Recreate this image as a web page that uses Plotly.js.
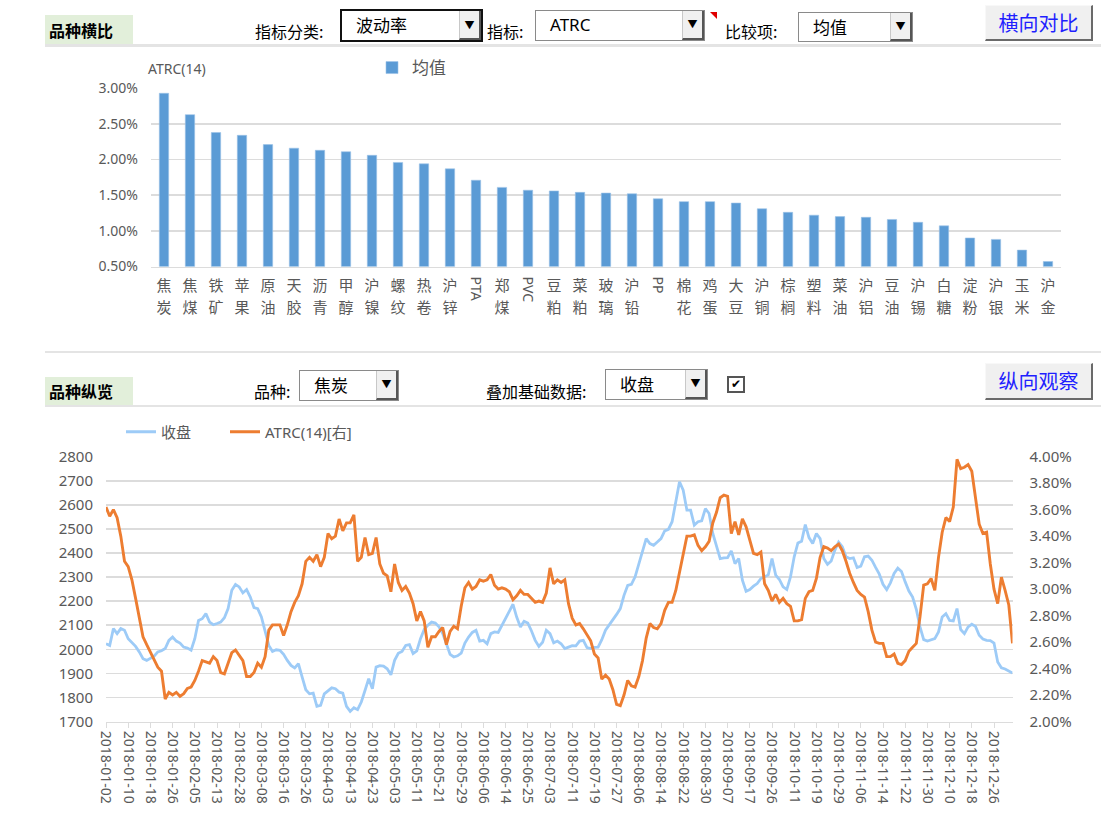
<!DOCTYPE html>
<html><head><meta charset="utf-8">
<script src="https://cdn.plot.ly/plotly-3.0.1.min.js"></script>
<style>
body{margin:0;background:#fff;}
#wrap{position:relative;width:1101px;height:834px;overflow:hidden;font-family:"Noto Sans CJK SC",sans-serif;}
#chart{position:absolute;left:0;top:0;width:1101px;height:834px;}
.ui{position:absolute;z-index:5;box-sizing:border-box;white-space:nowrap;}
.tag{background:#e2efda;font-weight:bold;font-size:16px;color:#000;padding-left:4px;line-height:30px;}
.sep{background:#e4e4e4;}
.lbl{font-size:16px;color:#000;line-height:20px;}
.dd{background:#fff;border:1px solid #8a8a8a;font-size:17px;color:#000;}
.dd.focus{border:2px solid #111;}
.dd .t{position:absolute;left:14px;top:2px;line-height:24px;}
.dd .arr{position:absolute;right:0px;top:0px;bottom:0px;width:22px;background:#f0f0f0;border-left:1px solid #c8c8c8;border-right:2px solid #555;border-bottom:2px solid #555;font-size:10px;line-height:26px;text-align:center;color:#000;box-sizing:border-box;}
.btn{background:#f0f0f0;border-top:1px solid #f8f8f8;border-left:1px solid #f8f8f8;border-right:2px solid #6a6a6a;border-bottom:2px solid #6a6a6a;color:#1f1fff;font-size:20px;text-align:center;}
.chk{border:2px solid #555;background:#fff;font-size:12px;line-height:13px;text-align:center;font-family:"DejaVu Sans",sans-serif;color:#000;}
.tri{width:0;height:0;border-left:7px solid transparent;border-top:7px solid #e00000;}
</style>
</head><body>
<div id="wrap">
<div id="chart"></div>

<div class="ui tag" style="left:45px;top:15px;width:88px;height:30px;">品种横比</div>
<div class="ui sep" style="left:45px;top:44px;width:1056px;height:3px;"></div>
<div class="ui lbl" style="left:255px;top:21px;">指标分类:</div>
<div class="ui dd focus" style="left:340px;top:9px;width:143px;height:33px;"><span class="t">波动率</span><span class="arr" style="line-height:27px;">▼</span></div>
<div class="ui lbl" style="left:487px;top:21px;">指标:</div>
<div class="ui dd" style="left:535px;top:10px;width:170px;height:31px;"><span class="t" style="font-family:'Noto Sans',sans-serif;">ATRC</span><span class="arr">▼</span></div>
<div class="ui tri" style="left:710px;top:12px;"></div>
<div class="ui lbl" style="left:725px;top:21px;">比较项:</div>
<div class="ui dd" style="left:798px;top:12px;width:115px;height:30px;"><span class="t">均值</span><span class="arr" style="line-height:25px;">▼</span></div>
<div class="ui btn" style="left:985px;top:5px;width:108px;height:36px;line-height:33px;">横向对比</div>

<div class="ui sep" style="left:45px;top:351px;width:1056px;height:2px;"></div>
<div class="ui tag" style="left:45px;top:377px;width:88px;height:28px;line-height:28px;">品种纵览</div>
<div class="ui sep" style="left:45px;top:405px;width:1056px;height:2px;"></div>
<div class="ui lbl" style="left:254px;top:381px;">品种:</div>
<div class="ui dd" style="left:299px;top:370px;width:100px;height:31px;"><span class="t">焦炭</span><span class="arr">▼</span></div>
<div class="ui lbl" style="left:486px;top:381px;">叠加基础数据:</div>
<div class="ui dd" style="left:605px;top:369px;width:103px;height:31px;"><span class="t">收盘</span><span class="arr">▼</span></div>
<div class="ui chk" style="left:727px;top:376px;width:18px;height:17px;">✔</div>
<div class="ui btn" style="left:985px;top:363px;width:108px;height:37px;line-height:34px;">纵向观察</div>
</div>

<script>
// ---------- Top chart data ----------
const varieties = ['焦炭','焦煤','铁矿','苹果','原油','天胶','沥青','甲醇','沪镍','螺纹','热卷','沪锌','PTA','郑煤','PVC','豆粕','菜粕','玻璃','沪铅','PP','棉花','鸡蛋','大豆','沪铜','棕榈','塑料','菜油','沪铝','豆油','沪锡','白糖','淀粉','沪银','玉米','沪金'];
const atrcMean = [2.93,2.63,2.38,2.34,2.21,2.16,2.13,2.11,2.06,1.96,1.94,1.87,1.71,1.61,1.57,1.56,1.54,1.53,1.52,1.45,1.41,1.41,1.39,1.31,1.26,1.22,1.20,1.19,1.16,1.12,1.07,0.90,0.88,0.73,0.57];

// ---------- Bottom chart data ----------
const dateTickLabels = ['2018-01-02','2018-01-10','2018-01-18','2018-01-26','2018-02-05','2018-02-13','2018-02-28','2018-03-08','2018-03-16','2018-03-26','2018-04-03','2018-04-13','2018-04-23','2018-05-03','2018-05-11','2018-05-21','2018-05-29','2018-06-06','2018-06-14','2018-06-25','2018-07-03','2018-07-11','2018-07-19','2018-07-27','2018-08-06','2018-08-14','2018-08-22','2018-08-30','2018-09-07','2018-09-17','2018-09-26','2018-10-11','2018-10-19','2018-10-29','2018-11-06','2018-11-14','2018-11-22','2018-11-30','2018-12-10','2018-12-18','2018-12-26'];
const tickEvery = 6;
const closePrice = [2023,2016,2086,2065,2086,2079,2044,2026,2012,1989,1961,1954,1961,1971,1989,1994,2003,2037,2051,2034,2026,2009,2005,1996,2044,2120,2127,2148,2113,2102,2107,2113,2131,2169,2245,2269,2259,2234,2248,2217,2173,2169,2134,2079,2016,1991,1998,1996,1979,1954,1933,1923,1940,1885,1832,1815,1818,1763,1767,1815,1829,1840,1836,1822,1818,1763,1742,1757,1749,1781,1829,1878,1836,1926,1932,1930,1919,1894,1954,1983,1991,2016,2019,1982,1993,
2044,2082,2100,2113,2109,2093,2065,2023,1979,1968,1973,1984,2026,2051,2070,2079,2034,2037,2023,2065,2072,2070,2100,2127,2155,2187,2134,2093,2116,2109,2076,2037,2012,2029,2079,2065,2027,2034,2023,2003,2009,2015,2014,2034,2037,2007,2003,2008,2009,2040,2079,2100,2125,2145,2169,2224,2265,2270,2301,2356,2414,2460,2439,2432,2446,2460,2492,2498,2530,2606,2696,2661,2578,2578,2516,2530,2534,2584,2564,2481,2426,2377,2380,2381,2409,2356,2377,2287,2241,2248,2262,2273,2294,
2301,2309,2377,2308,2290,2259,2248,2301,2384,2442,2449,2518,2464,2439,2481,2460,2377,2353,2367,2412,2445,2426,2384,2377,2380,2340,2345,2384,2387,2370,2340,2312,2270,2248,2276,2315,2337,2323,2280,2242,2217,2166,2093,2040,2034,2040,2044,2072,2134,2148,2120,2118,2169,2082,2065,2093,2104,2095,2058,2043,2037,2036,2026,1947,1923,1918,1910,1901];
const atrc14 = [3.62,3.55,3.60,3.54,3.40,3.21,3.17,3.07,2.93,2.77,2.64,2.58,2.52,2.46,2.41,2.38,2.17,2.22,2.20,2.22,2.19,2.21,2.25,2.26,2.31,2.38,2.46,2.45,2.44,2.49,2.46,2.37,2.36,2.44,2.52,2.54,2.50,2.46,2.34,2.34,2.37,2.44,2.41,2.49,2.69,2.73,2.73,2.73,2.65,2.73,2.83,2.90,2.95,3.04,3.21,3.24,3.21,3.26,3.17,3.24,3.42,3.38,3.40,3.53,3.44,3.50,3.50,3.56,3.21,3.24,3.39,3.26,3.27,3.39,3.19,3.12,3.10,2.98,3.19,3.05,2.99,3.02,2.97,2.89,2.76,
2.83,2.76,2.56,2.64,2.64,2.68,2.71,2.58,2.68,2.72,2.70,2.87,3.01,3.05,3.00,3.02,3.07,3.06,3.07,3.11,3.03,3.00,3.01,3.00,2.98,2.92,2.95,2.99,2.96,2.96,2.93,2.90,2.91,2.90,2.97,3.16,3.04,3.07,3.05,3.07,2.89,2.78,2.73,2.74,2.70,2.65,2.61,2.51,2.48,2.32,2.35,2.32,2.24,2.13,2.12,2.20,2.31,2.27,2.26,2.34,2.46,2.63,2.74,2.71,2.70,2.74,2.84,2.90,2.90,2.99,3.13,3.26,3.40,3.40,3.41,3.33,3.29,3.32,3.36,3.50,3.58,3.69,3.71,3.70,3.42,3.51,3.41,3.53,3.47,3.37,3.27,3.26,3.28,
3.04,2.99,2.91,2.96,2.90,2.93,2.89,2.87,2.76,2.76,2.77,2.93,2.98,2.99,3.08,3.24,3.32,3.31,3.29,3.32,3.34,3.29,3.21,3.12,3.05,2.99,2.96,2.94,2.83,2.69,2.60,2.59,2.59,2.49,2.49,2.51,2.44,2.43,2.46,2.53,2.56,2.59,2.79,3.03,3.04,3.08,2.99,3.24,3.43,3.54,3.51,3.62,3.98,3.91,3.92,3.94,3.89,3.70,3.49,3.42,3.43,3.19,3.00,2.89,3.09,2.99,2.88,2.59];

// ---------- build ----------
const W = 1101, H = 834;
const px = v => v / W, py = v => 1 - v / H;
const FONT = '"Noto Sans","Noto Sans CJK SC",sans-serif';
const CJK = '"Noto Sans CJK SC",sans-serif';
const GREY = '#595959', GRID = '#dcdcdc';

const barIdx = varieties.map((_, i) => i);
const isLatin = s => /^[A-Z]+$/.test(s);
const firstChar = varieties.map(s => isLatin(s) ? '' : s.charAt(0));
const secondChar = varieties.map(s => isLatin(s) ? '' : s.charAt(1));
const latinIdx = barIdx.filter(i => isLatin(varieties[i]));

const dayIdx = closePrice.map((_, i) => i);
const dateTickVals = dateTickLabels.map((_, k) => k * tickEvery);
const catRange = [-0.5, varieties.length - 0.5];

const ghost = (ax) => ({type:'scatter', mode:'markers', x:[0], y:[0], xaxis:ax, yaxis:'y',
  marker:{opacity:0}, showlegend:false, hoverinfo:'skip'});

const traces = [
  {type:'bar', x:barIdx, y:atrcMean, name:'均值', xaxis:'x', yaxis:'y', width:0.36,
   marker:{color:'#5b9bd5', line:{color:'#9cc2e8', width:0.6}}, legend:'legend', hoverinfo:'y'},
  ghost('x3'), ghost('x4'),
  {type:'scatter', mode:'lines', x:dayIdx, y:closePrice, name:'收盘', xaxis:'x2', yaxis:'y2',
   line:{color:'#9dcbf7', width:2.8}, legend:'legend2'},
  {type:'scatter', mode:'lines', x:dayIdx, y:atrc14, name:'ATRC(14)[右]', xaxis:'x2', yaxis:'y3',
   line:{color:'#ed7d31', width:2.9}, legend:'legend3'}
];

const catAxisBase = {range:catRange, tickmode:'array', tickvals:barIdx, tickangle:0,
  tickfont:{size:15, color:GREY, family:CJK}, showgrid:false, zeroline:false, ticks:''};

const layout = {
  width: W, height: H, margin:{l:0,r:0,t:0,b:0},
  paper_bgcolor:'#fff', plot_bgcolor:'rgba(0,0,0,0)',
  font:{family:FONT, color:GREY, size:14},
  showlegend:true,
  xaxis:Object.assign({}, catAxisBase, {domain:[px(151), px(1061)], anchor:'y',
    ticktext:firstChar, ticklabelstandoff:5,
    showline:true, linecolor:GRID, linewidth:1.5}),
  xaxis4:Object.assign({}, catAxisBase, {overlaying:'x', anchor:'y', side:'bottom',
    ticktext:secondChar, ticklabelstandoff:30, showline:false}),
  xaxis3:{overlaying:'x', anchor:'y', side:'bottom', range:catRange,
    tickmode:'array', tickvals:latinIdx, ticktext:latinIdx.map(i => varieties[i]), tickangle:90,
    tickfont:{size:14, color:GREY}, ticklabelstandoff:9, showline:false, showgrid:false, zeroline:false, ticks:''},
  yaxis:{domain:[py(266.5), py(88.3)], range:[0.5, 3.0], dtick:0.5, anchor:'x',
    tickformat:'.2f', ticksuffix:'%', tickfont:{size:14, color:GREY},
    showgrid:true, gridcolor:GRID, gridwidth:1.5, zeroline:false, showline:false, ticks:'', ticklabelstandoff:12},
  xaxis2:{domain:[px(106), px(1012.5)], range:[0, closePrice.length - 1], anchor:'y2',
    tickmode:'array', tickvals:dateTickVals, ticktext:dateTickLabels, tickangle:90,
    tickfont:{size:14, color:GREY},
    showline:true, linecolor:GRID, linewidth:1.5, showgrid:false, zeroline:false,
    ticks:'outside', ticklen:5, tickcolor:GRID, tickwidth:1},
  yaxis2:{domain:[py(721.5), py(456.7)], range:[1700, 2800], dtick:100, anchor:'x2',
    tickfont:{size:15, color:GREY}, showgrid:true, gridcolor:GRID, gridwidth:1.5,
    zeroline:false, showline:false, ticks:'', ticklabelstandoff:12},
  yaxis3:{overlaying:'y2', side:'right', anchor:'x2', range:[2.0, 4.0], dtick:0.2,
    tickformat:'.2f', ticksuffix:'%', tickfont:{size:15, color:GREY},
    showgrid:false, zeroline:false, showline:false, ticks:'', ticklabelstandoff:16},
  legend:{x:px(372), y:py(68), xanchor:'left', yanchor:'middle', orientation:'h',
    font:{size:17, color:GREY}, bgcolor:'rgba(0,0,0,0)'},
  legend2:{x:px(121), y:py(432), xanchor:'left', yanchor:'middle', orientation:'h',
    font:{size:15, color:GREY}, bgcolor:'rgba(0,0,0,0)'},
  legend3:{x:px(225), y:py(432), xanchor:'left', yanchor:'middle', orientation:'h',
    font:{size:15, color:GREY}, bgcolor:'rgba(0,0,0,0)'},
  annotations:[
    {text:'ATRC(14)', xref:'paper', yref:'paper', x:px(146), y:py(68), xanchor:'left', yanchor:'middle',
     showarrow:false, font:{size:14, color:GREY}}
  ]
};

Plotly.newPlot('chart', traces, layout, {displayModeBar:false, staticPlot:true});
</script>
</body></html>
